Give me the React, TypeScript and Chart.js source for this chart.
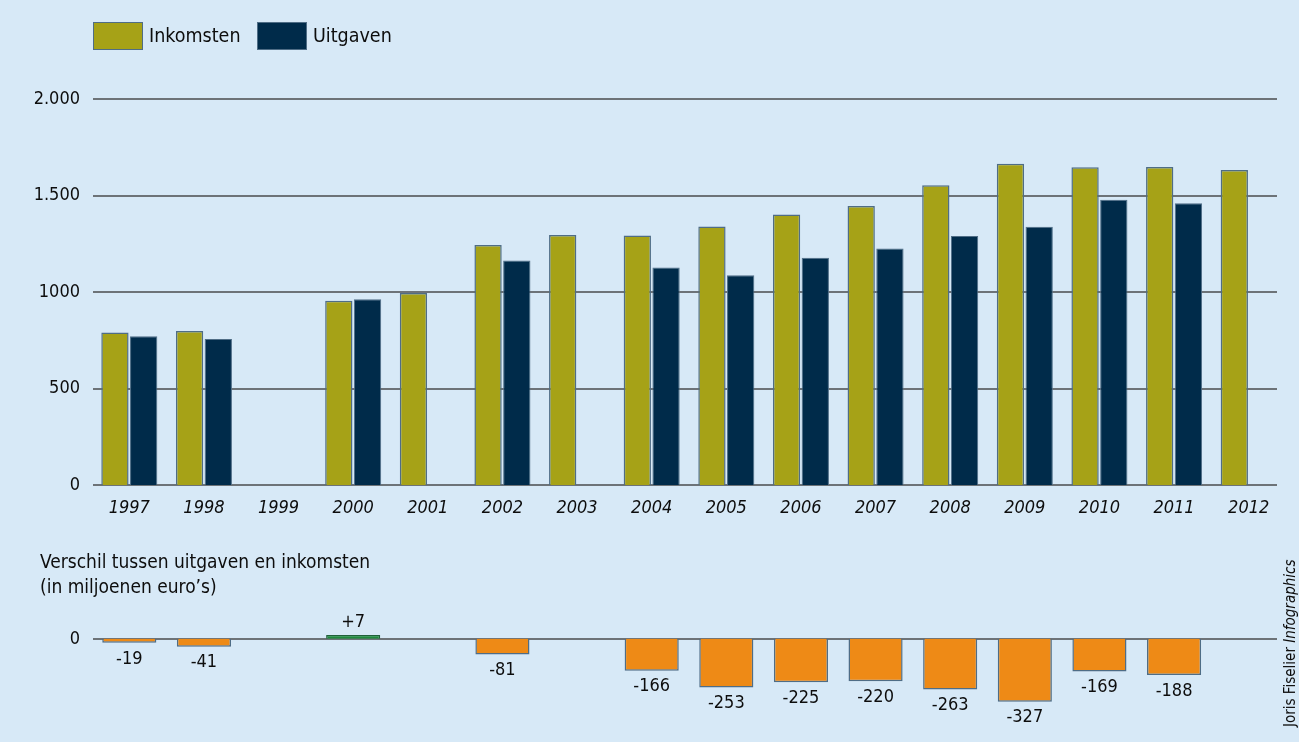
import React, { useEffect, useRef } from "react";
import { Chart, registerables } from "chart.js";

Chart.register(...registerables);

const years = ["1997", "1998", "1999", "2000", "2001", "2002", "2003", "2004", "2005", "2006", "2007", "2008", "2009", "2010", "2011", "2012"];
const inkomsten = [790, 798, null, 955, 995, 1244, 1295, 1293, 1340, 1402, 1446, 1553, 1665, 1647, 1648, 1632];
const uitgaven = [771, 757, null, 962, null, 1163, null, 1127, 1087, 1177, 1226, 1290, 1338, 1478, 1460, null];
const verschil = [-19, -41, null, 7, null, -81, null, -166, -253, -225, -220, -263, -327, -169, -188, null];
const yTickValues = [0, 500, 1000, 1500, 2000];
const yTickLabels = ["0", "500", "1000", "1.500", "2.000"];
const legendLabels = ["Inkomsten", "Uitgaven"];
const diffTitle = ["Verschil tussen uitgaven en inkomsten", "(in miljoenen euro\u2019s)"];

const FONT = "'Liberation Sans Narrow', 'DejaVu Sans Condensed', 'Roboto Condensed', 'Liberation Sans', sans-serif";
const BG = "#d7e9f7";
const OLIVE = "#a6a217";
const NAVY = "#002b4a";
const ORANGE = "#ee8a16";
const GREEN = "#1e8a3c";
const GRID = "#6d7378";
const BORDER = "#4f6d86";
const TEXT = "#0d0d0d";

const W = 1299;
const TOP_H = 530;
const BOT_TOP = 530;
const BOT_H = 212;

// draws horizontal grid lines a bit shorter than the chart area on the right
const makeGridPlugin = (values: number[]) => ({
  id: "shortGrid",
  beforeDatasetsDraw(chart: any) {
    const ctx = chart.ctx;
    const y = chart.scales.y;
    const { left, right } = chart.chartArea;
    ctx.save();
    ctx.strokeStyle = GRID;
    ctx.lineWidth = 2;
    values.forEach((v) => {
      const py = Math.round(y.getPixelForValue(v));
      ctx.beginPath();
      ctx.moveTo(left + 1, py);
      ctx.lineTo(right - 9, py);
      ctx.stroke();
    });
    ctx.restore();
  },
});

const diffLabelPlugin = {
  id: "diffLabels",
  afterDatasetsDraw(chart: any) {
    const ctx = chart.ctx;
    const meta = chart.getDatasetMeta(0);
    ctx.save();
    ctx.fillStyle = TEXT;
    ctx.font = `18px ${FONT}`;
    ctx.textAlign = "center";
    meta.data.forEach((el: any, i: number) => {
      const v = verschil[i];
      if (v === null || v === undefined) return;
      const txt = v > 0 ? `+${v}` : `${v}`;
      if (v < 0) {
        ctx.textBaseline = "top";
        ctx.fillText(txt, el.x, el.y + 7);
      } else {
        ctx.textBaseline = "bottom";
        ctx.fillText(txt, el.x, el.y - 4);
      }
    });
    ctx.restore();
  },
};

export default function App() {
  const topRef = useRef<HTMLCanvasElement>(null);
  const botRef = useRef<HTMLCanvasElement>(null);

  useEffect(() => {
    const top = new Chart(topRef.current as HTMLCanvasElement, {
      type: "bar",
      data: {
        labels: years,
        datasets: [
          {
            label: legendLabels[0],
            data: inkomsten as any,
            backgroundColor: OLIVE,
            borderColor: BORDER,
            borderWidth: 1.5,
            categoryPercentage: 0.77,
            barPercentage: 0.95,
          },
          {
            label: legendLabels[1],
            data: uitgaven as any,
            backgroundColor: NAVY,
            borderColor: BORDER,
            borderWidth: 1,
            categoryPercentage: 0.77,
            barPercentage: 0.95,
          },
        ],
      },
      options: {
        responsive: false,
        animation: false,
        layout: { padding: { top: 99, right: 13, left: 0, bottom: 0 } },
        plugins: { legend: { display: false }, tooltip: { enabled: false } },
        scales: {
          x: {
            grid: { display: false },
            border: { display: false },
            ticks: {
              color: TEXT,
              padding: 5,
              font: { family: FONT, size: 18, style: "italic" },
            },
            afterFit: (axis: any) => {
              axis.height = 45;
            },
          },
          y: {
            min: 0,
            max: 2000,
            border: { display: false },
            grid: { display: false, drawTicks: false },
            afterBuildTicks: (axis: any) => {
              axis.ticks = yTickValues.map((v) => ({ value: v }));
            },
            ticks: {
              color: TEXT,
              padding: 12,
              font: { family: FONT, size: 18 },
              callback: (v: any) => {
                const idx = yTickValues.indexOf(Number(v));
                return idx >= 0 ? yTickLabels[idx] : "";
              },
            },
            afterFit: (axis: any) => {
              axis.width = 92;
            },
          },
        },
      },
      plugins: [makeGridPlugin(yTickValues)],
    });

    const bot = new Chart(botRef.current as HTMLCanvasElement, {
      type: "bar",
      data: {
        labels: years,
        datasets: [
          {
            label: "Verschil",
            data: verschil as any,
            backgroundColor: verschil.map((v) => (v !== null && v > 0 ? GREEN : ORANGE)),
            borderColor: verschil.map((v) => (v !== null && v > 0 ? "#20603a" : BORDER)),
            borderWidth: 1.5,
            minBarLength: 4,
            categoryPercentage: 0.74,
            barPercentage: 0.98,
          },
        ],
      },
      options: {
        responsive: false,
        animation: false,
        layout: { padding: { top: 105, right: 13, left: 0, bottom: 30 } },
        plugins: { legend: { display: false }, tooltip: { enabled: false } },
        scales: {
          x: { display: false },
          y: {
            min: -380,
            max: 20,
            border: { display: false },
            grid: { display: false, drawTicks: false },
            afterBuildTicks: (axis: any) => {
              axis.ticks = [{ value: 0 }];
            },
            ticks: {
              color: TEXT,
              padding: 12,
              font: { family: FONT, size: 18 },
              callback: () => "0",
            },
            afterFit: (axis: any) => {
              axis.width = 92;
            },
          },
        },
      },
      plugins: [makeGridPlugin([0]), diffLabelPlugin],
    });

    return () => {
      top.destroy();
      bot.destroy();
    };
  }, []);

  const boxStyle = (color: string, left: number): React.CSSProperties => ({
    position: "absolute",
    left,
    top: 22,
    width: 48,
    height: 26,
    background: color,
    border: `1.5px solid ${BORDER}`,
  });
  const legendText = (left: number): React.CSSProperties => ({
    position: "absolute",
    left,
    top: 22,
    height: 28,
    lineHeight: "28px",
    fontFamily: FONT,
    fontSize: 19.5,
    color: TEXT,
  });

  return (
    <div
      style={{
        position: "absolute",
        left: 0,
        top: 0,
        width: W,
        height: 742,
        background: BG,
        overflow: "hidden",
      }}
    >
      <canvas ref={topRef} width={W} height={TOP_H} style={{ position: "absolute", left: 0, top: 0 }} />
      <canvas ref={botRef} width={W} height={BOT_H} style={{ position: "absolute", left: 0, top: BOT_TOP }} />
      <div style={boxStyle(OLIVE, 93)} />
      <div style={legendText(149)}>{legendLabels[0]}</div>
      <div style={boxStyle(NAVY, 257)} />
      <div style={legendText(313)}>{legendLabels[1]}</div>
      <div
        style={{
          position: "absolute",
          left: 40,
          top: 549,
          fontFamily: FONT,
          fontSize: 19,
          lineHeight: "25px",
          color: TEXT,
          whiteSpace: "nowrap",
        }}
      >
        <div>{diffTitle[0]}</div>
        <div>{diffTitle[1]}</div>
      </div>
      <div
        style={{
          position: "absolute",
          left: 1281,
          top: 727,
          transformOrigin: "0 0",
          transform: "rotate(-90deg)",
          fontFamily: FONT,
          fontSize: 15,
          lineHeight: "18px",
          color: TEXT,
          whiteSpace: "nowrap",
        }}
      >
        Joris Fiselier <i>Infographics</i>
      </div>
    </div>
  );
}
